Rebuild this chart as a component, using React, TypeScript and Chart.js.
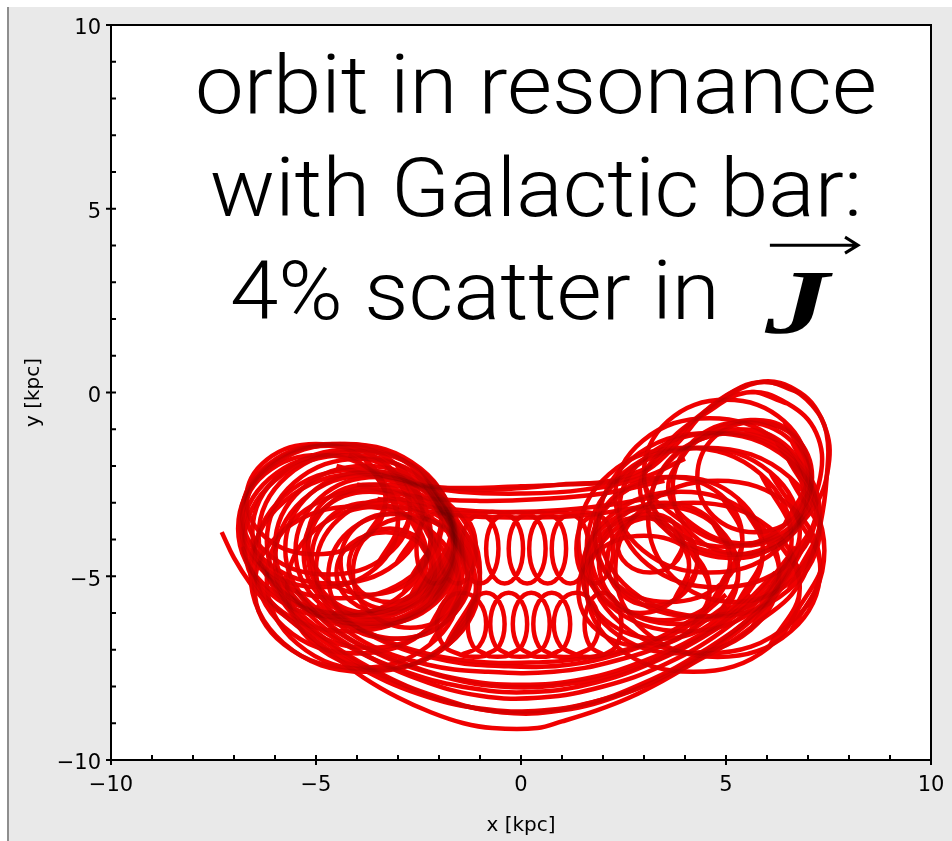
import React, { useEffect, useRef } from "react";
import { Chart, registerables } from "chart.js";

Chart.register(...registerables);

// ---------- axis data ----------
const xTickLabels = ["\u221210", "\u22125", "0", "5", "10"];
const yTickLabels = ["\u221210", "\u22125", "0", "5", "10"];
const minorTickValues = [-10, -9, -8, -7, -6, -5, -4, -3, -2, -1, 0, 1, 2, 3, 4, 5, 6, 7, 8, 9, 10];
const xTitle = "x [kpc]";
const yTitle = "y [kpc]";

// ---------- annotation text ----------
const annotationLines = ["orbit in resonance", "with Galactic bar:", "4% scatter in"];
const vectorSymbol = "J";

// ---------- orbit traces (x, y in kpc) ----------
// open arcs
const outerTail = [
  [-7.3, -3.8], [-7.0, -4.5], [-6.6, -5.2], [-6.25, -5.65], [-5.5, -6.3], [-4.7, -7.05], [-3.85, -7.75],
  [-3.0, -8.3], [-2.2, -8.7], [-1.4, -9.0], [-0.7, -9.13], [0.4, -9.13], [1.0, -8.95], [1.85, -8.65],
  [2.65, -8.3], [3.45, -7.85], [4.3, -7.3], [5.1, -6.8], [5.9, -6.15], [6.6, -5.5], [7.05, -4.6],
  [7.3, -3.6], [7.45, -2.4], [7.45, -1.1], [7.1, -0.35], [6.5, 0.15], [5.8, 0.28], [5.2, 0.05],
  [4.5, -0.5], [3.8, -1.4], [3.1, -2.1], [2.4, -2.4], [1.2, -2.5], [0, -2.55], [-1.2, -2.6], [-2.3, -2.55],
  [-3.4, -2.25], [-4.2, -1.7],
];
const bottomArcA = [[-6.4, -4.6], [-5.6, -6.0], [-4.5, -7.0], [-3.0, -7.9], [-1.5, -8.5], [0, -8.7], [1.5, -8.5], [3.0, -7.9], [4.5, -7.0], [5.8, -5.9], [6.7, -4.6]];
const bottomArcB = [[-6.0, -4.8], [-5.2, -6.0], [-4.0, -7.0], [-2.5, -7.8], [-1.0, -8.25], [0.5, -8.3], [2.0, -8.0], [3.5, -7.4], [4.9, -6.5], [6.0, -5.4], [6.7, -4.2]];
const bottomArcC = [[-5.5, -5.4], [-4.5, -6.5], [-3.0, -7.3], [-1.5, -7.8], [0, -7.95], [1.5, -7.8], [3.0, -7.3], [4.5, -6.5], [5.6, -5.5]];
const bottomArcD = [[-5.0, -5.8], [-3.8, -6.8], [-2.3, -7.4], [-0.8, -7.6], [0.8, -7.6], [2.3, -7.3], [3.8, -6.7], [5.0, -5.8]];
const bottomArcE = [[-6.6, -4.0], [-6.0, -5.3], [-5.0, -6.5], [-3.5, -7.6], [-2.0, -8.3], [-0.5, -8.7], [1.0, -8.65], [2.5, -8.2], [4.0, -7.4], [5.3, -6.4], [6.3, -5.3], [7.0, -4.0]];
const bottomArcF = [[-6.8, -4.2], [-6.3, -5.4], [-5.3, -6.5], [-4.0, -7.45], [-2.5, -8.2], [-1.0, -8.6], [0.5, -8.65], [2.0, -8.35], [3.5, -7.75], [4.8, -6.9], [5.9, -5.9], [6.8, -4.7]];
const bottomArcG = [[-5.8, -5.0], [-4.8, -6.2], [-3.5, -7.1], [-2.0, -7.7], [-0.5, -8.0], [1.0, -7.95], [2.5, -7.6], [4.0, -6.9], [5.2, -6.0], [6.2, -4.9]];
const bottomArcH = [[-4.6, -6.0], [-3.3, -6.8], [-1.8, -7.3], [-0.3, -7.45], [1.2, -7.4], [2.7, -7.0], [4.0, -6.4], [5.0, -5.5]];
const bottomArcI = [[-6.2, -4.9], [-5.5, -5.9], [-4.3, -6.85], [-2.8, -7.6], [-1.2, -8.05], [0.3, -8.15], [1.8, -7.9], [3.2, -7.35], [4.6, -6.55], [5.7, -5.6], [6.5, -4.5]];
const bottomArcJ = [[-4.0, -6.4], [-2.8, -6.95], [-1.3, -7.3], [0.2, -7.35], [1.7, -7.2], [3.1, -6.8], [4.3, -6.1]];
const topArcA = [[-3.4, -2.25], [-2.2, -2.55], [-1, -2.65], [0, -2.6], [1, -2.5], [2.2, -2.4], [3.2, -2.0]];
const topArcB = [[-4.0, -2.5], [-2.5, -2.85], [-1, -2.95], [0.5, -2.9], [2, -2.75], [3.5, -2.4]];
const topArcC = [[-3.5, -2.9], [-2, -3.15], [-0.5, -3.25], [1, -3.2], [2.5, -3.0], [3.8, -2.7]];
const topArcD = [[-3.0, -3.1], [-1.5, -3.35], [0, -3.4], [1.5, -3.35], [3.0, -3.1]];
const topArcE = [[-4.5, -2.0], [-3, -2.45], [-1.5, -2.7], [0, -2.75], [1.5, -2.65], [3, -2.3], [4, -1.8]];

// closed loops: E, NE, N, NW, W, SW, S, SE
const leftLoop01 = [[-1.7, -3.7], [-2.45, -2.07], [-4.3, -1.4], [-6.15, -2.07], [-6.9, -3.7], [-6.15, -5.33], [-4.3, -6.0], [-2.45, -5.33]];
const leftLoop02 = [[-1.65, -3.8], [-2.36, -2.2], [-4.1, -1.55], [-5.84, -2.2], [-6.55, -3.8], [-5.84, -5.4], [-4.1, -6.05], [-2.36, -5.4]];
const leftLoop03 = [[-1.6, -3.9], [-2.3, -2.27], [-4.0, -1.6], [-5.7, -2.27], [-6.4, -3.9], [-5.7, -5.53], [-4.0, -6.2], [-2.3, -5.53]];
const leftLoop04 = [[-1.6, -4.05], [-2.27, -2.45], [-3.9, -1.8], [-5.53, -2.45], [-6.2, -4.05], [-5.53, -5.65], [-3.9, -6.3], [-2.27, -5.65]];
const leftLoop05 = [[-1.6, -4.2], [-2.24, -2.64], [-3.8, -2.0], [-5.36, -2.64], [-6.0, -4.2], [-5.36, -5.76], [-3.8, -6.4], [-2.24, -5.76]];
const leftLoop06 = [[-1.55, -4.25], [-2.16, -2.76], [-3.65, -2.15], [-5.14, -2.76], [-5.75, -4.25], [-5.14, -5.74], [-3.65, -6.35], [-2.16, -5.74]];
const leftLoop07 = [[-1.5, -4.3], [-2.08, -2.88], [-3.5, -2.3], [-4.92, -2.88], [-5.5, -4.3], [-4.92, -5.72], [-3.5, -6.3], [-2.08, -5.72]];
const leftLoop08 = [[-1.6, -4.35], [-2.12, -3.04], [-3.4, -2.5], [-4.68, -3.04], [-5.2, -4.35], [-4.68, -5.66], [-3.4, -6.2], [-2.12, -5.66]];
const leftLoop09 = [[-2.1, -4.4], [-2.56, -3.19], [-3.7, -2.7], [-4.84, -3.19], [-5.3, -4.4], [-4.84, -5.61], [-3.7, -6.1], [-2.56, -5.61]];
const leftLoop10 = [[-2.3, -4.5], [-2.7, -3.43], [-3.7, -3.0], [-4.7, -3.43], [-5.1, -4.5], [-4.7, -5.57], [-3.7, -6.0], [-2.7, -5.57]];
const leftLoop11 = [[-2.0, -4.6], [-2.35, -3.68], [-3.2, -3.3], [-4.05, -3.68], [-4.4, -4.6], [-4.05, -5.52], [-3.2, -5.9], [-2.35, -5.52]];
const leftLoop12 = [[-2.4, -3.3], [-3.04, -1.95], [-4.6, -1.4], [-6.16, -1.95], [-6.8, -3.3], [-6.16, -4.65], [-4.6, -5.2], [-3.04, -4.65]];
const leftLoop13 = [[-1.1, -5.3], [-1.77, -3.74], [-3.4, -3.1], [-5.03, -3.74], [-5.7, -5.3], [-5.03, -6.86], [-3.4, -7.5], [-1.77, -6.86]];
const leftLoop14 = [[-1.0, -4.9], [-1.81, -2.98], [-3.8, -2.2], [-5.79, -2.98], [-6.6, -4.9], [-5.79, -6.82], [-3.8, -7.6], [-1.81, -6.82]];
const leftLoop15 = [[-1.3, -4.9], [-1.7, -3.83], [-2.7, -3.4], [-3.7, -3.83], [-4.1, -4.9], [-3.7, -5.97], [-2.7, -6.4], [-1.7, -5.97]];
const leftLoop16 = [[-3.3, -2.9], [-3.8, -1.83], [-5.0, -1.4], [-6.2, -1.83], [-6.7, -2.9], [-6.2, -3.97], [-5.0, -4.4], [-3.8, -3.97]];
const leftLoop17 = [[-1.5, -4.6], [-2.22, -2.82], [-4.0, -2.1], [-5.78, -2.82], [-6.5, -4.6], [-5.78, -6.38], [-4.0, -7.1], [-2.22, -6.38]];
const leftLoop18 = [[-2.2, -4.7], [-2.49, -3.99], [-3.2, -3.7], [-3.91, -3.99], [-4.2, -4.7], [-3.91, -5.41], [-3.2, -5.7], [-2.49, -5.41]];
const leftLoop19 = [[-1.95, -3.5], [-2.66, -2.01], [-4.4, -1.4], [-6.14, -2.01], [-6.85, -3.5], [-6.14, -4.99], [-4.4, -5.6], [-2.66, -4.99]];
const leftLoop20 = [[-1.0, -5.1], [-1.75, -3.36], [-3.6, -2.65], [-5.45, -3.36], [-6.2, -5.1], [-5.45, -6.84], [-3.6, -7.55], [-1.75, -6.84]];
const leftLoop21 = [[-1.2, -4.8], [-1.75, -3.45], [-3.1, -2.9], [-4.45, -3.45], [-5.0, -4.8], [-4.45, -6.15], [-3.1, -6.7], [-1.75, -6.15]];
const leftLoop22 = [[-2.7, -3.2], [-3.28, -1.96], [-4.7, -1.45], [-6.12, -1.96], [-6.7, -3.2], [-6.12, -4.44], [-4.7, -4.95], [-3.28, -4.44]];
const leftLoop23 = [[-1.65, -4.1], [-2.39, -2.4], [-4.2, -1.7], [-6.01, -2.4], [-6.75, -4.1], [-6.01, -5.8], [-4.2, -6.5], [-2.39, -5.8]];
const leftLoop24 = [[-1.4, -4.6], [-2.07, -2.93], [-3.7, -2.25], [-5.33, -2.93], [-6.0, -4.6], [-5.33, -6.27], [-3.7, -6.95], [-2.07, -6.27]];
const leftLoop25 = [[-2.2, -3.9], [-2.87, -2.34], [-4.5, -1.7], [-6.13, -2.34], [-6.8, -3.9], [-6.13, -5.46], [-4.5, -6.1], [-2.87, -5.46]];
const leftLoop26 = [[-1.3, -5.0], [-1.79, -3.79], [-3.0, -3.3], [-4.21, -3.79], [-4.7, -5.0], [-4.21, -6.21], [-3.0, -6.7], [-1.79, -6.21]];
const leftLoop27 = [[-3.0, -3.5], [-3.55, -2.22], [-4.9, -1.7], [-6.25, -2.22], [-6.8, -3.5], [-6.25, -4.78], [-4.9, -5.3], [-3.55, -4.78]];
const leftLoop28 = [[-2.2, -4.0], [-2.63, -2.93], [-3.7, -2.5], [-4.77, -2.93], [-5.2, -4.0], [-4.77, -5.07], [-3.7, -5.5], [-2.63, -5.07]];
const leftLoop29 = [[-1.5, -5.3], [-2.22, -3.74], [-4.0, -3.1], [-5.78, -3.74], [-6.5, -5.3], [-5.78, -6.86], [-4.0, -7.5], [-2.22, -6.86]];
const leftLoop30 = [[-2.1, -4.9], [-2.45, -4.12], [-3.3, -3.8], [-4.15, -4.12], [-4.5, -4.9], [-4.15, -5.68], [-3.3, -6.0], [-2.45, -5.68]];

const rightLoop01 = [[5.8, 0.28], [6.8, 0.0], [7.4, -0.9], [7.5, -2.0], [7.1, -3.2], [6.2, -4.0], [5.0, -4.1], [3.8, -3.4], [3.0, -2.4], [3.6, -1.5], [4.5, -0.5]];
const rightLoop02 = [[5.6, -0.75], [6.5, -1.0], [7.0, -1.8], [7.0, -2.9], [6.4, -3.8], [5.3, -4.1], [4.2, -3.6], [3.6, -2.7], [3.9, -1.8], [4.6, -1.1]];
const rightLoop03 = [[5.3, -1.0], [6.3, -1.3], [6.9, -2.2], [6.9, -3.3], [6.2, -4.2], [5.0, -4.5], [3.8, -4.0], [3.2, -3.0], [3.5, -2.0], [4.3, -1.3]];
const rightLoop04 = [[7.1, -2.6], [6.6, -1.32], [5.4, -0.8], [4.2, -1.32], [3.7, -2.6], [4.2, -3.88], [5.4, -4.4], [6.6, -3.88]];
const rightLoop05 = [[7.2, -3.2], [6.5, -1.71], [4.8, -1.1], [3.1, -1.71], [2.4, -3.2], [3.1, -4.69], [4.8, -5.3], [6.5, -4.69]];
const rightLoop06 = [[6.8, -3.8], [6.08, -2.17], [4.3, -1.5], [2.52, -2.17], [1.8, -3.8], [2.52, -5.43], [4.3, -6.1], [6.08, -5.43]];
const rightLoop07 = [[5.9, -4.3], [5.29, -2.88], [3.8, -2.3], [2.31, -2.88], [1.7, -4.3], [2.31, -5.72], [3.8, -6.3], [5.29, -5.72]];
const rightLoop08 = [[5.1, -4.6], [4.64, -3.46], [3.5, -3.0], [2.36, -3.46], [1.9, -4.6], [2.36, -5.74], [3.5, -6.2], [4.64, -5.74]];
const rightLoop09 = [[4.3, -4.6], [3.98, -3.75], [3.2, -3.4], [2.42, -3.75], [2.1, -4.6], [2.42, -5.45], [3.2, -5.8], [3.98, -5.45]];
const rightLoop10 = [[6.8, -5.3], [6.05, -3.67], [4.2, -3.0], [2.35, -3.67], [1.6, -5.3], [2.35, -6.93], [4.2, -7.6], [6.05, -6.93]];
const rightLoop11 = [[7.4, -4.3], [6.56, -2.31], [4.5, -1.5], [2.44, -2.31], [1.6, -4.3], [2.44, -6.29], [4.5, -7.1], [6.56, -6.29]];
const rightLoop12 = [[7.1, -2.3], [6.7, -1.23], [5.7, -0.8], [4.7, -1.23], [4.3, -2.3], [4.7, -3.37], [5.7, -3.8], [6.7, -3.37]];
const rightLoop13 = [[4.6, -5.4], [4.14, -4.33], [3.0, -3.9], [1.86, -4.33], [1.4, -5.4], [1.86, -6.47], [3.0, -6.9], [4.14, -6.47]];
const rightLoop14 = [[6.6, -4.0], [5.85, -2.22], [4.0, -1.5], [2.15, -2.22], [1.4, -4.0], [2.15, -5.78], [4.0, -6.5], [5.85, -5.78]];
const rightLoop15 = [[3.95, -4.1], [3.72, -3.53], [3.15, -3.3], [2.58, -3.53], [2.35, -4.1], [2.58, -4.67], [3.15, -4.9], [3.72, -4.67]];
const rightLoop16 = [[7.3, -3.6], [6.52, -1.82], [4.6, -1.1], [2.68, -1.82], [1.9, -3.6], [2.68, -5.38], [4.6, -6.1], [6.52, -5.38]];
const rightLoop17 = [[6.3, -4.9], [5.6, -3.34], [3.9, -2.7], [2.2, -3.34], [1.5, -4.9], [2.2, -6.46], [3.9, -7.1], [5.6, -6.46]];
const rightLoop18 = [[5.3, -4.9], [4.75, -3.62], [3.4, -3.1], [2.05, -3.62], [1.5, -4.9], [2.05, -6.18], [3.4, -6.7], [4.75, -6.18]];
const rightLoop19 = [[7.0, -2.2], [6.42, -0.78], [5.0, -0.2], [3.58, -0.78], [3.0, -2.2], [3.58, -3.62], [5.0, -4.2], [6.42, -3.62]];
const rightLoop20 = [[6.9, -2.8], [6.23, -1.31], [4.6, -0.7], [2.97, -1.31], [2.3, -2.8], [2.97, -4.29], [4.6, -4.9], [6.23, -4.29]];
const rightLoop21 = [[7.3, -3.4], [6.69, -1.77], [5.2, -1.1], [3.71, -1.77], [3.1, -3.4], [3.71, -5.03], [5.2, -5.7], [6.69, -5.03]];
const rightLoop22 = [[5.4, -4.0], [4.88, -2.79], [3.6, -2.3], [2.32, -2.79], [1.8, -4.0], [2.32, -5.21], [3.6, -5.7], [4.88, -5.21]];
const rightLoop23 = [[7.3, -4.8], [6.58, -3.1], [4.8, -2.4], [3.02, -3.1], [2.3, -4.8], [3.02, -6.5], [4.8, -7.2], [6.58, -6.5]];
const rightLoop24 = [[4.1, -4.7], [3.75, -3.78], [2.9, -3.4], [2.05, -3.78], [1.7, -4.7], [2.05, -5.62], [2.9, -6.0], [3.75, -5.62]];
const rightLoop25 = [[5.5, 0.0], [6.5, -0.3], [7.2, -1.1], [7.3, -2.3], [6.8, -3.5], [5.8, -4.3], [4.5, -4.3], [3.4, -3.6], [2.9, -2.6], [3.4, -1.6], [4.3, -0.7]];

const upperEpicycles = [
  [-2.1, -3.3], [-1.78, -3.58], [-1.65, -4.25], [-1.78, -4.92], [-2.1, -5.2], [-2.42, -4.92], [-2.55, -4.25], [-2.42, -3.58], [-2.1, -3.3],
  [-1.55, -3.3], [-1.23, -3.58], [-1.1, -4.25], [-1.23, -4.92], [-1.55, -5.2], [-1.87, -4.92], [-2.0, -4.25], [-1.87, -3.58], [-1.55, -3.3],
  [-1.0, -3.3], [-0.68, -3.58], [-0.55, -4.25], [-0.68, -4.92], [-1.0, -5.2], [-1.32, -4.92], [-1.45, -4.25], [-1.32, -3.58], [-1.0, -3.3],
  [-0.4, -3.3], [-0.08, -3.58], [0.05, -4.25], [-0.08, -4.92], [-0.4, -5.2], [-0.72, -4.92], [-0.85, -4.25], [-0.72, -3.58], [-0.4, -3.3],
  [0.15, -3.3], [0.47, -3.58], [0.6, -4.25], [0.47, -4.92], [0.15, -5.2], [-0.17, -4.92], [-0.3, -4.25], [-0.17, -3.58], [0.15, -3.3],
  [0.65, -3.3], [0.97, -3.58], [1.1, -4.25], [0.97, -4.92], [0.65, -5.2], [0.33, -4.92], [0.2, -4.25], [0.33, -3.58], [0.65, -3.3],
  [1.2, -3.3], [1.52, -3.58], [1.65, -4.25], [1.52, -4.92], [1.2, -5.2], [0.88, -4.92], [0.75, -4.25], [0.88, -3.58], [1.2, -3.3],
  [1.8, -3.3], [2.12, -3.58], [2.25, -4.25], [2.12, -4.92], [1.8, -5.2], [1.48, -4.92], [1.35, -4.25], [1.48, -3.58], [1.8, -3.3],
];
const lowerEpicycles = [
  [-1.45, -7.15], [-1.88, -6.9], [-2.05, -6.3], [-1.88, -5.7], [-1.45, -5.45], [-1.02, -5.7], [-0.85, -6.3], [-1.02, -6.9], [-1.45, -7.15],
  [-0.85, -7.15], [-1.17, -6.9], [-1.3, -6.3], [-1.17, -5.7], [-0.85, -5.45], [-0.53, -5.7], [-0.4, -6.3], [-0.53, -6.9], [-0.85, -7.15],
  [-0.3, -7.15], [-0.62, -6.9], [-0.75, -6.3], [-0.62, -5.7], [-0.3, -5.45], [0.02, -5.7], [0.15, -6.3], [0.02, -6.9], [-0.3, -7.15],
  [0.25, -7.15], [-0.07, -6.9], [-0.2, -6.3], [-0.07, -5.7], [0.25, -5.45], [0.57, -5.7], [0.7, -6.3], [0.57, -6.9], [0.25, -7.15],
  [0.75, -7.15], [0.43, -6.9], [0.3, -6.3], [0.43, -5.7], [0.75, -5.45], [1.07, -5.7], [1.2, -6.3], [1.07, -6.9], [0.75, -7.15],
  [1.35, -7.15], [0.96, -6.9], [0.8, -6.3], [0.96, -5.7], [1.35, -5.45], [1.74, -5.7], [1.9, -6.3], [1.74, -6.9], [1.35, -7.15],
  [2.0, -7.15], [1.68, -6.9], [1.55, -6.3], [1.68, -5.7], [2.0, -5.45], [2.32, -5.7], [2.45, -6.3], [2.32, -6.9], [2.0, -7.15],
];

const openPaths = [
  outerTail, bottomArcA, bottomArcB, bottomArcC, bottomArcD, bottomArcE, bottomArcF, bottomArcG, bottomArcH,
  bottomArcI, bottomArcJ, topArcA, topArcB, topArcC, topArcD, topArcE, upperEpicycles, lowerEpicycles,
];
const closedLoops = [
  leftLoop01, leftLoop02, leftLoop03, leftLoop04, leftLoop05, leftLoop06, leftLoop07, leftLoop08, leftLoop09,
  leftLoop10, leftLoop11, leftLoop12, leftLoop13, leftLoop14, leftLoop15, leftLoop16, leftLoop17, leftLoop18,
  leftLoop19, leftLoop20, leftLoop21, leftLoop22, leftLoop23, leftLoop24, leftLoop25, leftLoop26, leftLoop27,
  leftLoop28, leftLoop29, leftLoop30,
  rightLoop01, rightLoop02, rightLoop03, rightLoop04, rightLoop05, rightLoop06, rightLoop07, rightLoop08,
  rightLoop09, rightLoop10, rightLoop11, rightLoop12, rightLoop13, rightLoop14, rightLoop15, rightLoop16,
  rightLoop17, rightLoop18, rightLoop19, rightLoop20, rightLoop21, rightLoop22, rightLoop23, rightLoop24,
  rightLoop25,
];

// wrap a loop so the spline passes smoothly through its start point
const closeLoop = (p: number[][]) => [p[p.length - 1], ...p, p[0], p[1]];

const ORBIT_RED = "rgb(240,0,0)";
const TICK_FONT = "'DejaVu Sans', sans-serif";

const decorPlugin = {
  id: "decor",
  beforeDraw(chart: any) {
    const { ctx, chartArea: a } = chart;
    ctx.save();
    ctx.fillStyle = "#ffffff";
    ctx.fillRect(a.left, a.top, a.right - a.left, a.bottom - a.top);
    ctx.restore();
  },
  beforeDatasetsDraw(chart: any) {
    chart.ctx.globalCompositeOperation = "multiply";
  },
  afterDatasetsDraw(chart: any) {
    chart.ctx.globalCompositeOperation = "source-over";
  },
  afterDraw(chart: any) {
    const { ctx, chartArea: a, scales } = chart;
    const xs = scales.x;
    const ys = scales.y;
    ctx.save();
    ctx.strokeStyle = "#000";
    ctx.lineWidth = 2;
    ctx.beginPath();
    ctx.moveTo(a.left - 1, a.top);
    ctx.lineTo(a.right, a.top);
    ctx.lineTo(a.right, a.bottom + 1);
    ctx.stroke();
    ctx.beginPath();
    for (const v of minorTickValues) {
      const major = v % 5 === 0;
      const px = xs.getPixelForValue(v);
      ctx.moveTo(px, a.bottom + (major ? 5 : 0));
      ctx.lineTo(px, a.bottom - 5);
      const py = ys.getPixelForValue(v);
      ctx.moveTo(a.left - (major ? 5 : 0), py);
      ctx.lineTo(a.left + 5, py);
    }
    ctx.stroke();

    ctx.fillStyle = "#000";
    ctx.textBaseline = "alphabetic";
    ctx.textAlign = "left";
    ctx.font = "300 82px 'Roboto Light', 'Lato Light', 'Open Sans Light', Roboto, 'Liberation Sans', sans-serif";
    const lineSpecs = [
      { x0: -7.95, x1: 8.68, y: 7.6 },
      { x0: -7.59, x1: 8.32, y: 4.8 },
      { x0: -7.1, x1: 4.85, y: 2.0 },
    ];
    annotationLines.forEach((t, i) => {
      const s = lineSpecs[i];
      const left = xs.getPixelForValue(s.x0);
      const target = xs.getPixelForValue(s.x1) - left;
      const w = ctx.measureText(t).width;
      ctx.save();
      ctx.translate(left, ys.getPixelForValue(s.y));
      ctx.scale(target / w, 1);
      ctx.fillText(t, 0, 0);
      ctx.restore();
    });
    ctx.font = "bold italic 92px 'Liberation Serif', 'DejaVu Serif', serif";
    ctx.save();
    ctx.translate(xs.getPixelForValue(5.95), ys.getPixelForValue(1.62));
    ctx.scale(1.4, 1);
    ctx.fillText(vectorSymbol, 0, 0);
    ctx.restore();
    const ax0 = xs.getPixelForValue(6.07);
    const ax1 = xs.getPixelForValue(8.22);
    const ay = ys.getPixelForValue(4.01);
    ctx.lineWidth = 3;
    ctx.beginPath();
    ctx.moveTo(ax0, ay);
    ctx.lineTo(ax1, ay);
    ctx.moveTo(ax1 - 13, ay - 8);
    ctx.lineTo(ax1, ay);
    ctx.lineTo(ax1 - 13, ay + 8);
    ctx.stroke();
    ctx.restore();
  },
};

export default function App() {
  const ref = useRef<HTMLCanvasElement | null>(null);
  useEffect(() => {
    if (!ref.current) return;
    const allPaths = [...openPaths, ...closedLoops.map(closeLoop)];
    const datasets = allPaths.map((p) => ({
      data: p.map(([x, y]) => ({ x, y })),
      showLine: true,
      borderColor: ORBIT_RED,
      backgroundColor: ORBIT_RED,
      borderWidth: 4.5,
      pointRadius: 0,
      tension: 0.4,
      fill: false,
    }));
    const chart = new Chart(ref.current, {
      type: "scatter",
      data: { datasets },
      options: {
        animation: false,
        responsive: false,
        layout: { padding: { top: 18, right: 21, left: 0, bottom: 0 } },
        plugins: { legend: { display: false }, tooltip: { enabled: false } },
        scales: {
          x: {
            type: "linear",
            min: -10,
            max: 10,
            grid: { display: false, drawTicks: false },
            border: { display: true, color: "#000", width: 2 },
            ticks: {
              stepSize: 5,
              color: "#000",
              padding: 13,
              maxRotation: 0,
              font: { family: TICK_FONT, size: 21 },
              callback: (_v: any, i: number) => xTickLabels[i],
            },
            title: {
              display: true,
              text: xTitle,
              color: "#000",
              font: { family: TICK_FONT, size: 20 },
              padding: { top: 0, bottom: 3 },
            },
            afterFit: (s: any) => {
              s.height = 81;
              s.paddingLeft = 0;
              s.paddingRight = 0;
            },
          },
          y: {
            type: "linear",
            min: -10,
            max: 10,
            grid: { display: false, drawTicks: false },
            border: { display: true, color: "#000", width: 2 },
            ticks: {
              stepSize: 5,
              color: "#000",
              padding: 10,
              labelOffset: 4,
              font: { family: TICK_FONT, size: 21 },
              callback: (_v: any, i: number) => yTickLabels[i],
            },
            title: {
              display: true,
              text: yTitle,
              color: "#000",
              font: { family: TICK_FONT, size: 20 },
              padding: { top: 13, bottom: 0 },
            },
            afterFit: (s: any) => {
              s.width = 102;
              s.paddingTop = 0;
              s.paddingBottom = 0;
            },
          },
        },
      } as any,
      plugins: [decorPlugin],
    });
    return () => chart.destroy();
  }, []);

  return (
    <div
      style={{
        position: "fixed",
        left: 7,
        top: 7,
        width: 945,
        height: 834,
        background: "#e9e9e9",
        borderLeft: "2px solid #8e8e8e",
        boxSizing: "border-box",
      }}
    >
      <canvas ref={ref} width={943} height={834} style={{ display: "block" }} />
    </div>
  );
}
